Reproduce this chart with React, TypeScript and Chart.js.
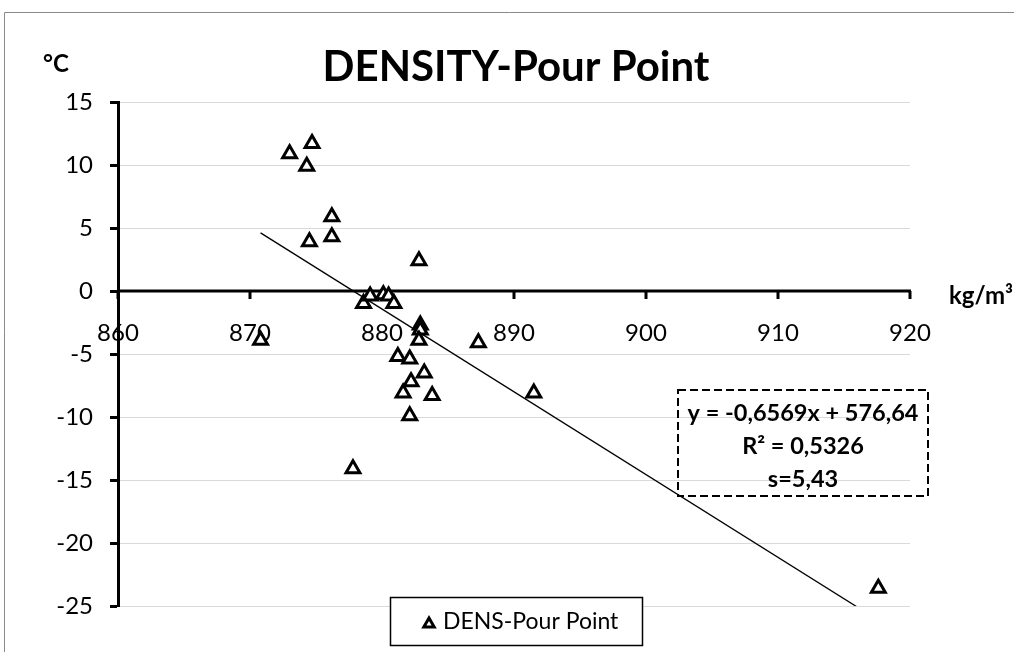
import React, { useEffect, useRef } from "react";
import { Chart, registerables } from "chart.js";

Chart.register(...registerables);

// Density (kg/m³) and pour point (°C) of each sample
const densities = [
  870.8, 873.0, 874.7, 874.3, 874.5, 876.2, 876.2, 877.8, 878.6, 879.1,
  880.1, 880.5, 880.9, 882.8, 882.9, 882.9, 882.8, 881.2, 882.1, 883.2,
  882.2, 881.6, 883.8, 882.1, 887.3, 891.5, 917.6,
];
const pourPoints = [
  -3.9, 10.9, 11.7, 9.9, 3.9, 5.9, 4.3, -14.1, -1.0, -0.4,
  -0.3, -0.4, -1.0, 2.4, -2.7, -3.1, -3.9, -5.2, -5.4, -6.5,
  -7.2, -8.1, -8.3, -9.9, -4.1, -8.1, -23.6,
];

// Axis ranges
const xRange = [860, 920];
const xStep = 10;
const yRange = [-25, 15];
const yStep = 5;
const xCrossesAt = 0;

// Linear regression of pour point on density
const SLOPE = -0.6569;
const INTERCEPT = 576.64;
const R_SQUARED = 0.5326;
const STD_ERR = 5.43;

const TITLE = "DENSITY-Pour Point";
const SERIES_NAME = "DENS-Pour Point";
const X_UNIT = "kg/m³";
const Y_UNIT = "°C";

const FONT = 'Lato, "Open Sans", sans-serif';

const comma = (v: number, digits: number) => v.toFixed(digits).replace(".", ",");

const equationLines = [
  `y = ${comma(SLOPE, 4)}x + ${comma(INTERCEPT, 2)}`,
  `R² = ${comma(R_SQUARED, 4)}`,
  `s=${comma(STD_ERR, 2)}`,
];

const points = densities.map((d, i) => ({ x: d, y: pourPoints[i] }));
const xMin = Math.min(...densities);
const xMax = Math.max(...densities);
const trendPoints = [xMin, xMax].map((x) => ({ x, y: SLOPE * x + INTERCEPT }));

function drawTriangle(ctx: CanvasRenderingContext2D, cx: number, cy: number, r: number) {
  ctx.beginPath();
  for (let k = 0; k < 3; k++) {
    const a = (k * 2 * Math.PI) / 3;
    const px = cx + Math.sin(a) * r;
    const py = cy - Math.cos(a) * r;
    if (k === 0) ctx.moveTo(px, py);
    else ctx.lineTo(px, py);
  }
  ctx.closePath();
}

const decorations = {
  id: "decorations",
  beforeDraw(chart: any) {
    const { ctx, width, height } = chart;
    ctx.save();
    ctx.fillStyle = "#fff";
    ctx.fillRect(0, 0, width, height);
    // outer frame
    ctx.strokeStyle = "#8a8a8a";
    ctx.lineWidth = 1;
    ctx.beginPath();
    ctx.moveTo(4.5, height);
    ctx.lineTo(4.5, 12.5);
    ctx.lineTo(width, 12.5);
    ctx.stroke();
    // title and y unit
    ctx.fillStyle = "#000";
    ctx.textAlign = "center";
    ctx.textBaseline = "middle";
    ctx.font = `bold 42px ${FONT}`;
    ctx.fillText(TITLE, 516, 67);
    ctx.font = `bold 24px ${FONT}`;
    ctx.fillText(Y_UNIT, 56, 64);
    ctx.restore();
  },
  beforeDatasetsDraw(chart: any) {
    const { ctx } = chart;
    const xs = chart.scales.x;
    const ys = chart.scales.y;
    const y0 = ys.getPixelForValue(xCrossesAt);
    ctx.save();
    ctx.strokeStyle = "#000";
    ctx.lineWidth = 3;
    ctx.beginPath();
    ctx.moveTo(xs.left, y0);
    ctx.lineTo(xs.right + 1, y0);
    ctx.stroke();
    ctx.fillStyle = "#000";
    ctx.font = `24px ${FONT}`;
    ctx.textAlign = "center";
    ctx.textBaseline = "middle";
    xs.ticks.forEach((t: any) => {
      const px = xs.getPixelForValue(t.value);
      ctx.beginPath();
      ctx.moveTo(px, y0);
      ctx.lineTo(px, y0 + 8);
      ctx.stroke();
      ctx.fillText(String(t.value), px, y0 + 42);
    });
    ctx.font = `bold 24px ${FONT}`;
    ctx.textAlign = "left";
    ctx.fillText(X_UNIT, 949, y0 + 5);
    ctx.restore();
  },
  afterDraw(chart: any) {
    const { ctx } = chart;
    ctx.save();
    // regression box
    ctx.strokeStyle = "#000";
    ctx.lineWidth = 2;
    ctx.setLineDash([8, 4]);
    ctx.strokeRect(678, 390, 250, 106);
    ctx.setLineDash([]);
    ctx.fillStyle = "#000";
    ctx.font = `bold 23.5px ${FONT}`;
    ctx.textAlign = "center";
    ctx.textBaseline = "middle";
    equationLines.forEach((line, i) => ctx.fillText(line, 803, 413 + i * 33));
    // legend
    ctx.fillStyle = "#fff";
    ctx.fillRect(390.5, 597.5, 252, 48);
    ctx.lineWidth = 1.5;
    ctx.strokeRect(390.5, 597.5, 252, 48);
    ctx.lineWidth = 3;
    drawTriangle(ctx, 429, 624, 6);
    ctx.fillStyle = "#fff";
    ctx.fill();
    ctx.stroke();
    ctx.fillStyle = "#000";
    ctx.font = `23px ${FONT}`;
    ctx.textAlign = "left";
    ctx.fillText(SERIES_NAME, 443, 622);
    ctx.restore();
  },
};

export default function App() {
  const canvasRef = useRef<HTMLCanvasElement | null>(null);

  useEffect(() => {
    if (!canvasRef.current) return;
    const chart = new Chart(canvasRef.current, {
      type: "scatter",
      data: {
        datasets: [
          {
            label: SERIES_NAME,
            data: points,
            pointStyle: "triangle",
            pointRadius: 8,
            pointHoverRadius: 8,
            pointBorderWidth: 3,
            pointBorderColor: "#000",
            pointBackgroundColor: "#fff",
            order: 1,
          },
          {
            label: "trend",
            data: trendPoints,
            showLine: true,
            borderColor: "#000",
            borderWidth: 1.3,
            pointRadius: 0,
            pointHoverRadius: 0,
            fill: false,
            order: 0,
          },
        ],
      },
      options: {
        responsive: false,
        animation: false,
        events: [],
        layout: { padding: { top: 102, left: 0, right: 104, bottom: 46 } },
        plugins: {
          legend: { display: false },
          tooltip: { enabled: false },
          title: { display: false },
        },
        scales: {
          x: {
            type: "linear",
            min: xRange[0],
            max: xRange[1],
            display: false,
            ticks: { stepSize: xStep },
          },
          y: {
            type: "linear",
            position: "left",
            min: yRange[0],
            max: yRange[1],
            ticks: {
              stepSize: yStep,
              color: "#000",
              font: { family: FONT, size: 24 },
              padding: 17,
            },
            grid: {
              color: "#d9d9d9",
              lineWidth: 1,
              tickColor: "#000",
              tickLength: 8,
              tickWidth: 3,
            },
            border: { color: "#000", width: 3 },
            afterFit: (scale: any) => {
              scale.width = 118;
            },
          },
        },
      },
      plugins: [decorations],
    });
    return () => chart.destroy();
  }, []);

  return (
    <div style={{ position: "absolute", left: 0, top: 0, width: 1014, height: 652 }}>
      <canvas ref={canvasRef} width={1014} height={652} style={{ display: "block" }} />
    </div>
  );
}
